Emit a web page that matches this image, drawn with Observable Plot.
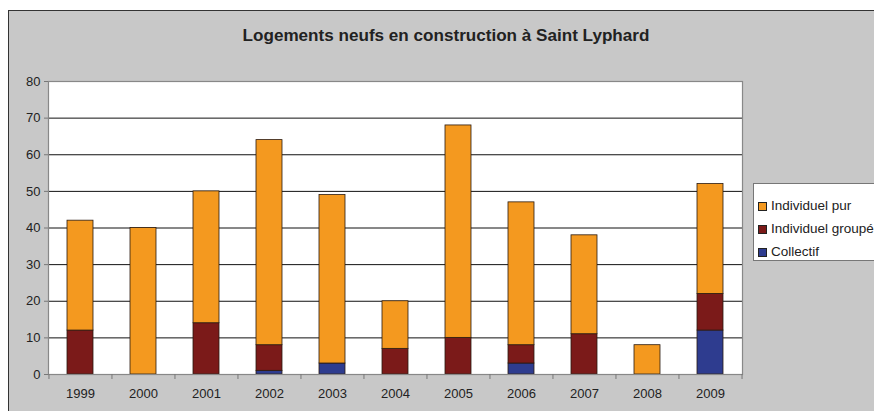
<!DOCTYPE html>
<html>
<head>
<meta charset="utf-8">
<script src="https://cdn.jsdelivr.net/npm/d3@7"></script>
<script src="https://cdn.jsdelivr.net/npm/@observablehq/plot@0.6"></script>
<style>
  html, body { margin: 0; padding: 0; background: #fff; }
  #wrap { position: relative; width: 874px; height: 411px; overflow: hidden; font-family: "Liberation Sans", Arial, sans-serif; }
  #panel { position: absolute; left: 8px; top: 10px; width: 880px; height: 420px; background: #c8c8c8; border: 1px solid #333; box-sizing: border-box; }
  #title { position: absolute; left: 0; width: 892px; top: 26px; text-align: center; font-weight: bold; font-size: 17.1px; color: #222; }
  #chart { position: absolute; left: 0; top: 0; }
  #legend { position: absolute; left: 753px; top: 183px; width: 140px; height: 78px; background: #fff; border: 1px solid #777; box-sizing: border-box; font-size: 13.5px; color: #222; }
  #legend .item { position: absolute; left: 4px; display: flex; align-items: center; line-height: 16px; }
  #legend .sw { width: 7px; height: 7px; border: 1px solid #222; margin-right: 4px; }
</style>
</head>
<body>
<div id="wrap">
  <div id="panel"></div>
  <div id="title">Logements neufs en construction à Saint Lyphard</div>
  <div id="chart"></div>
  <div id="legend"></div>
</div>
<script>
const years = ["1999","2000","2001","2002","2003","2004","2005","2006","2007","2008","2009"];
const collectif = [0, 0, 0, 1, 3, 0, 0, 3, 0, 0, 12];
const individuelGroupe = [12, 0, 14, 7, 0, 7, 10, 5, 11, 0, 10];
const individuelPur = [30, 40, 36, 56, 46, 13, 58, 39, 27, 8, 30];
const seriesNames = ["Collectif", "Individuel groupé", "Individuel pur"];
const seriesColors = ["#2e3c8f", "#7b1a19", "#f4991f"];
const yTicks = [0, 10, 20, 30, 40, 50, 60, 70, 80];

const seriesValues = [collectif, individuelGroupe, individuelPur];
const data = [];
years.forEach((y, i) => {
  seriesNames.forEach((s, j) => data.push({year: y, series: s, value: seriesValues[j][i]}));
});

const W = 874, H = 411;
const mL = 48, mR = 132, mT = 81, mB = 37;
const step = (W - mL - mR) / years.length;

const chart = Plot.plot({
  width: W, height: H,
  marginLeft: mL, marginRight: mR, marginTop: mT, marginBottom: mB,
  style: {background: "transparent", fontFamily: "Liberation Sans, Arial, sans-serif", fontSize: "13px", color: "#222"},
  x: {domain: years, paddingInner: 0.59, paddingOuter: 0.295, label: null},
  y: {domain: [0, 80], label: null},
  color: {domain: seriesNames, range: seriesColors},
  marks: [
    Plot.frame({fill: "#fff", stroke: "none"}),
    Plot.ruleY(yTicks.slice(1, -1), {stroke: "#111", strokeWidth: 1}),
    Plot.barY(data.filter(d => d.value > 0), {
      x: "year", y: "value", fill: "series", order: seriesNames,
      stroke: "#2a1a10", strokeWidth: 0.8
    }),
    Plot.frame({stroke: "#888", strokeWidth: 1.2}),
    Plot.axisY(yTicks, {tickSize: 4, tickPadding: 4, stroke: "#777", fontSize: 13, fill: "#222"}),
    Plot.axisX({tickSize: 0, tickPadding: 14, fontSize: 13, fill: "#222"}),
    Plot.axisX(years, {tickSize: 5, tickFormat: () => "", dx: -step / 2, stroke: "#777"}),
    Plot.axisX([years[years.length - 1]], {tickSize: 5, tickFormat: () => "", dx: step / 2, stroke: "#777"})
  ]
});
document.getElementById("chart").appendChild(chart);

const legend = document.getElementById("legend");
const legendOrder = ["Individuel pur", "Individuel groupé", "Collectif"];
legendOrder.forEach((name, k) => {
  const it = document.createElement("div");
  it.className = "item";
  it.style.top = (14 + k * 23) + "px";
  const sw = document.createElement("span");
  sw.className = "sw";
  sw.style.background = seriesColors[seriesNames.indexOf(name)];
  const tx = document.createElement("span");
  tx.textContent = name;
  it.appendChild(sw); it.appendChild(tx);
  legend.appendChild(it);
});
</script>
</body>
</html>
